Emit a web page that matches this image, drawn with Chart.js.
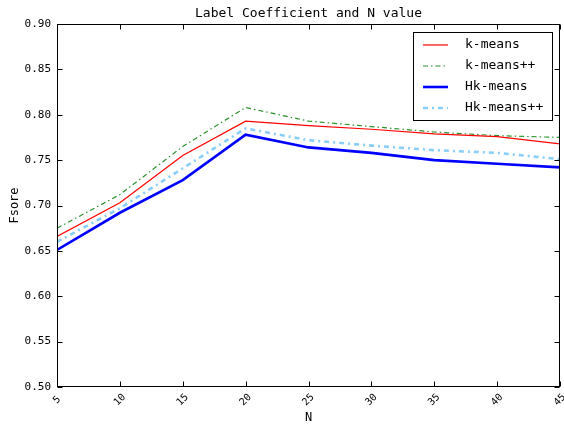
<!DOCTYPE html>
<html>
<head>
<meta charset="utf-8">
<script src="https://cdn.jsdelivr.net/npm/chart.js@4.4.0/dist/chart.umd.min.js"></script>
<style>
  html, body { margin: 0; padding: 0; background: #fff; }
  #wrap { width: 564px; height: 425px; position: relative; }
</style>
</head>
<body>
<div id="wrap"><canvas id="chart"></canvas></div>
<script>
// values
const nValues = [5, 10, 15, 20, 25, 30, 35, 40, 45];
const kMeans = [0.666, 0.703, 0.755, 0.793, 0.788, 0.784, 0.779, 0.776, 0.768];
const kMeansPP = [0.675, 0.712, 0.765, 0.808, 0.793, 0.787, 0.781, 0.777, 0.775];
const hkMeans = [0.651, 0.692, 0.728, 0.778, 0.764, 0.758, 0.750, 0.746, 0.742];
const hkMeansPP = [0.660, 0.697, 0.741, 0.785, 0.772, 0.766, 0.761, 0.758, 0.751];
const seriesNames = ['k-means', 'k-means++', 'Hk-means', 'Hk-means++'];
const chartTitle = 'Label Coefficient and N value';
const xTitle = 'N';
const yTitle = 'Fsore';

const FONT = '"DejaVu Sans Mono", monospace';

const styles = [
  { color: '#ff0000', width: 1.2, dash: [] },
  { color: '#2a922a', width: 1.2, dash: [5, 3, 1.5, 3] },
  { color: '#0000ff', width: 2.6, dash: [] },
  { color: '#87cefa', width: 2.6, dash: [5, 4, 2, 4] }
];

const toPoints = (ys) => ys.map((y, i) => ({ x: nValues[i], y }));

const datasets = [kMeans, kMeansPP, hkMeans, hkMeansPP].map((ys, i) => ({
  label: seriesNames[i],
  data: toPoints(ys),
  borderColor: styles[i].color,
  borderWidth: styles[i].width,
  borderDash: styles[i].dash,
  pointRadius: 0,
  tension: 0,
  fill: false
}));

// frame with inward ticks on all four sides, rotated x labels, title, boxed legend
const decorations = {
  id: 'decorations',
  afterDatasetsDraw(chart) {
    const { ctx, chartArea: a, scales: { x, y } } = chart;
    const L = Math.round(a.left) + 0.5, R = Math.round(a.right) - 0.5;
    const T = Math.round(a.top) + 0.5, B = Math.round(a.bottom) - 0.5;
    ctx.save();
    ctx.strokeStyle = '#000';
    ctx.lineWidth = 1;
    ctx.setLineDash([]);
    ctx.strokeRect(L, T, R - L, B - T);
    ctx.beginPath();
    x.ticks.forEach(t => {
      const px = Math.round(x.getPixelForValue(t.value)) + 0.5;
      ctx.moveTo(px, B); ctx.lineTo(px, B - 5);
      ctx.moveTo(px, T); ctx.lineTo(px, T + 5);
    });
    y.ticks.forEach(t => {
      const py = Math.round(y.getPixelForValue(t.value)) + 0.5;
      ctx.moveTo(L, py); ctx.lineTo(L + 5, py);
      ctx.moveTo(R, py); ctx.lineTo(R - 5, py);
    });
    ctx.stroke();

    // x tick labels, rotated 45 degrees and centred under each tick
    ctx.fillStyle = '#000';
    ctx.font = '10px ' + FONT;
    ctx.textAlign = 'center';
    ctx.textBaseline = 'middle';
    x.ticks.forEach(t => {
      ctx.save();
      ctx.translate(x.getPixelForValue(t.value), a.bottom + 13);
      ctx.rotate(-Math.PI / 4);
      ctx.fillText(String(t.value), 0, 0);
      ctx.restore();
    });

    // title
    ctx.font = '13px ' + FONT;
    ctx.fillText(chartTitle, (a.left + a.right) / 2, 14);

    // legend
    const bx = 413.5, by = 32.5, bw = 139, bh = 88;
    ctx.fillStyle = '#fff';
    ctx.fillRect(bx, by, bw, bh);
    ctx.strokeRect(bx, by, bw, bh);
    chart.data.datasets.forEach((ds, i) => {
      const cy = 45 + i * 21;
      ctx.beginPath();
      ctx.strokeStyle = ds.borderColor;
      ctx.lineWidth = ds.borderWidth;
      ctx.setLineDash(ds.borderDash);
      ctx.moveTo(423, cy);
      ctx.lineTo(448, cy);
      ctx.stroke();
      ctx.setLineDash([]);
      ctx.fillStyle = '#000';
      ctx.font = '13px ' + FONT;
      ctx.textAlign = 'left';
      ctx.fillText(ds.label, 465, cy);
    });
    ctx.restore();
  }
};

new Chart(document.getElementById('chart'), {
  type: 'line',
  data: { datasets },
  options: {
    responsive: true,
    maintainAspectRatio: false,
    animation: false,
    layout: { padding: { top: 24, right: 4, left: 0, bottom: 0 } },
    plugins: {
      legend: { display: false },
      title: { display: false },
      tooltip: { enabled: false }
    },
    scales: {
      x: {
        type: 'linear',
        min: 5,
        max: 45,
        afterFit: (s) => { s.height = 38; s.paddingLeft = 0; s.paddingRight = 0; },
        grid: { display: false, drawTicks: false },
        border: { display: false },
        ticks: { stepSize: 5, display: false },
        title: {
          display: true,
          text: xTitle,
          color: '#000',
          font: { family: FONT, size: 12 },
          padding: { top: 0, bottom: 0 }
        }
      },
      y: {
        type: 'linear',
        min: 0.5,
        max: 0.9,
        afterFit: (s) => { s.width = 57; s.paddingTop = 0; s.paddingBottom = 0; },
        grid: { display: false, drawTicks: false },
        border: { display: false },
        ticks: {
          stepSize: 0.05,
          padding: 6,
          color: '#000',
          font: { family: FONT, size: 11 },
          callback: (v) => v.toFixed(2)
        },
        title: {
          display: true,
          text: yTitle,
          color: '#000',
          font: { family: FONT, size: 12 },
          padding: { top: 8, bottom: 0 }
        }
      }
    }
  },
  plugins: [decorations]
});
</script>
</body>
</html>
